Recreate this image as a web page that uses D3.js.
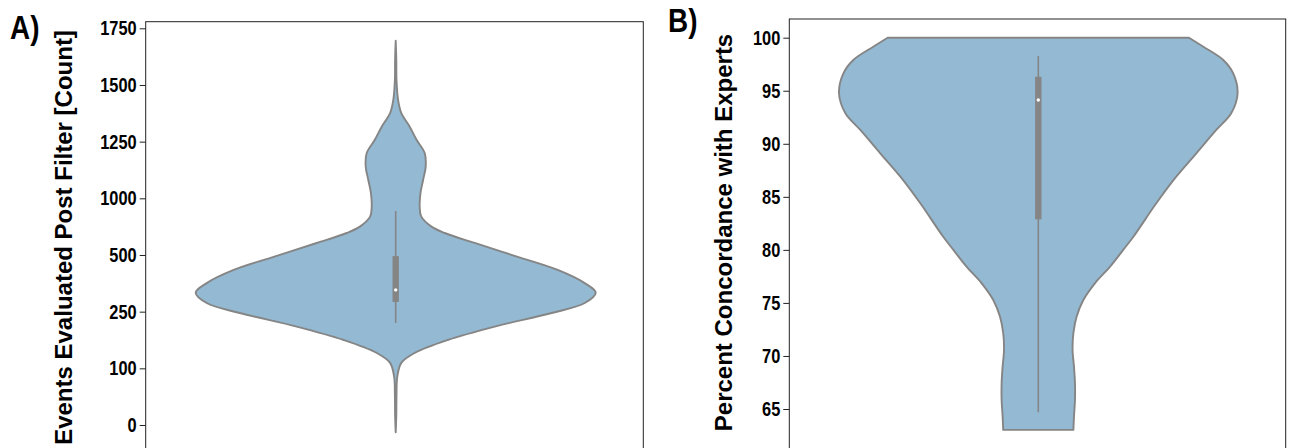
<!DOCTYPE html>
<html>
<head>
<meta charset="utf-8">
<script src="https://cdn.jsdelivr.net/npm/d3@7"></script>
<style>
  body { margin: 0; background: #fff; }
  text { font-family: "Liberation Sans", Arial, sans-serif; font-weight: bold; fill: #000; }
</style>
</head>
<body>
<svg id="chart" width="1291" height="448"></svg>
<script>
// panel A: events evaluated post filter (axis values, labels as printed)
const tickValuesA = [0, 250, 500, 750, 1000, 1250, 1500, 1750];
const tickLabelsA = ["0", "100", "250", "500", "1000", "1250", "1500", "1750"];
const violinA_y = [1695, 1610, 1522, 1434, 1376, 1316, 1257, 1200, 1140, 1081, 1024, 963, 919, 875, 847,
  803, 742, 684, 626, 584, 538, 494, 434, 375, 318, 274, 213, 132, 44, -32];
const violinA_w = [0, .003, .004, .012, .028, .07, .105, .145, .15, .137, .124, .12, .128, .179, .245,
  .395, .61, .81, .945, 1, .945, .78, .495, .26, .095, .028, .008, .004, .003, 0];
const boxA = { low: 450, q1: 543, median: 596, q3: 745, high: 944 };

// panel B: percent concordance with experts
const tickValuesB = [65, 70, 75, 80, 85, 90, 95, 100];
const violinB_y = [100, 99.15, 97.9, 96.64, 94.76, 92.87, 91.3, 89.1, 86.9, 84.39, 81.24, 80.0, 78.42,
  76.85, 75.28, 73.7, 72.14, 70.57, 69.0, 67.43, 65.86, 64.28, 63.03];
const violinB_w = [.756, .828, .928, .978, 1, .968, .893, .793, .692, .592, .477, .426, .36,
  .284, .226, .192, .176, .172, .179, .184, .184, .179, .176];
const boxB = { low: 64.7, q1: 82.88, median: 94.13, q3: 96.32, high: 98.27 };

const svg = d3.select("#chart");
const fillColor = "#93b9d3";
const lineColor = "#858585";
const squeeze = 0.82; // ticks and panel tags are set in a condensed face

function drawPanel(p) {
  const g = svg.append("g");

  const y = d3.scaleLinear().domain(p.domain).range(p.range);
  const x = d3.scaleLinear().domain([-1, 1]).range([p.center - p.halfWidth, p.center + p.halfWidth]);

  // frame
  g.append("rect")
    .attr("x", p.left)
    .attr("y", p.top)
    .attr("width", p.right - p.left)
    .attr("height", p.bottom - p.top)
    .attr("fill", "none")
    .attr("stroke", "#222")
    .attr("stroke-width", 1);

  const points = p.ys.map((v, i) => ({ v: v, w: p.ws[i] }));
  const area = d3.area()
    .y(d => y(d.v))
    .x0(d => x(-d.w))
    .x1(d => x(d.w))
    .curve(d3.curveCatmullRom);

  g.append("path")
    .datum(points)
    .attr("d", area)
    .attr("fill", fillColor)
    .attr("stroke", lineColor)
    .attr("stroke-width", 1.9)
    .attr("stroke-linejoin", "round");

  // inner box
  g.append("line")
    .attr("x1", p.center).attr("x2", p.center)
    .attr("y1", y(p.box.low)).attr("y2", y(p.box.high))
    .attr("stroke", lineColor)
    .attr("stroke-width", 1.6);

  g.append("rect")
    .attr("x", p.center - 3.2)
    .attr("width", 6.4)
    .attr("y", y(p.box.q3))
    .attr("height", y(p.box.q1) - y(p.box.q3))
    .attr("fill", lineColor);

  g.append("circle")
    .attr("cx", p.center)
    .attr("cy", y(p.box.median))
    .attr("r", 1.7)
    .attr("fill", "#fff");

  // y axis
  const axis = d3.axisLeft(y)
    .tickValues(p.ticks)
    .tickSize(6)
    .tickPadding(3);
  if (p.labels) axis.tickFormat((d, i) => p.labels[i]);

  const ax = g.append("g")
    .attr("transform", `translate(${p.left},0)`)
    .call(axis);
  ax.select(".domain").remove();
  ax.selectAll(".tick line").attr("stroke", "#222");
  ax.selectAll(".tick text")
    .attr("font-size", "20px")
    .attr("font-family", "Liberation Sans, Arial, sans-serif")
    .attr("font-weight", "bold")
    .attr("fill", "#000")
    .attr("x", -9 / squeeze)
    .attr("transform", `scale(${squeeze},1)`);

  g.append("text")
    .attr("transform", `translate(${p.titleX},${p.titleY}) rotate(-90)`)
    .attr("text-anchor", "middle")
    .attr("font-size", "24px")
    .text(p.title);

  g.append("text")
    .attr("transform", `translate(${p.tagX},${p.tagY}) scale(${squeeze},1)`)
    .attr("font-size", "34px")
    .text(p.tag);
}

drawPanel({
  left: 145.7, right: 643.3, top: 21.7, bottom: 453,
  center: 395.7, halfWidth: 200,
  domain: [0, 1750], range: [425, 28.3],
  ticks: tickValuesA, labels: tickLabelsA,
  ys: violinA_y, ws: violinA_w, box: boxA,
  title: "Events Evaluated Post Filter [Count]", titleX: 72, titleY: 237.5,
  tag: "A)", tagX: 10, tagY: 39
});

drawPanel({
  left: 789.3, right: 1285.7, top: 19, bottom: 450,
  center: 1038.3, halfWidth: 199.3,
  domain: [65, 100], range: [409, 37.7],
  ticks: tickValuesB, labels: null,
  ys: violinB_y, ws: violinB_w, box: boxB,
  title: "Percent Concordance with Experts", titleX: 731.5, titleY: 232.5,
  tag: "B)", tagX: 668, tagY: 32
});
</script>
</body>
</html>
